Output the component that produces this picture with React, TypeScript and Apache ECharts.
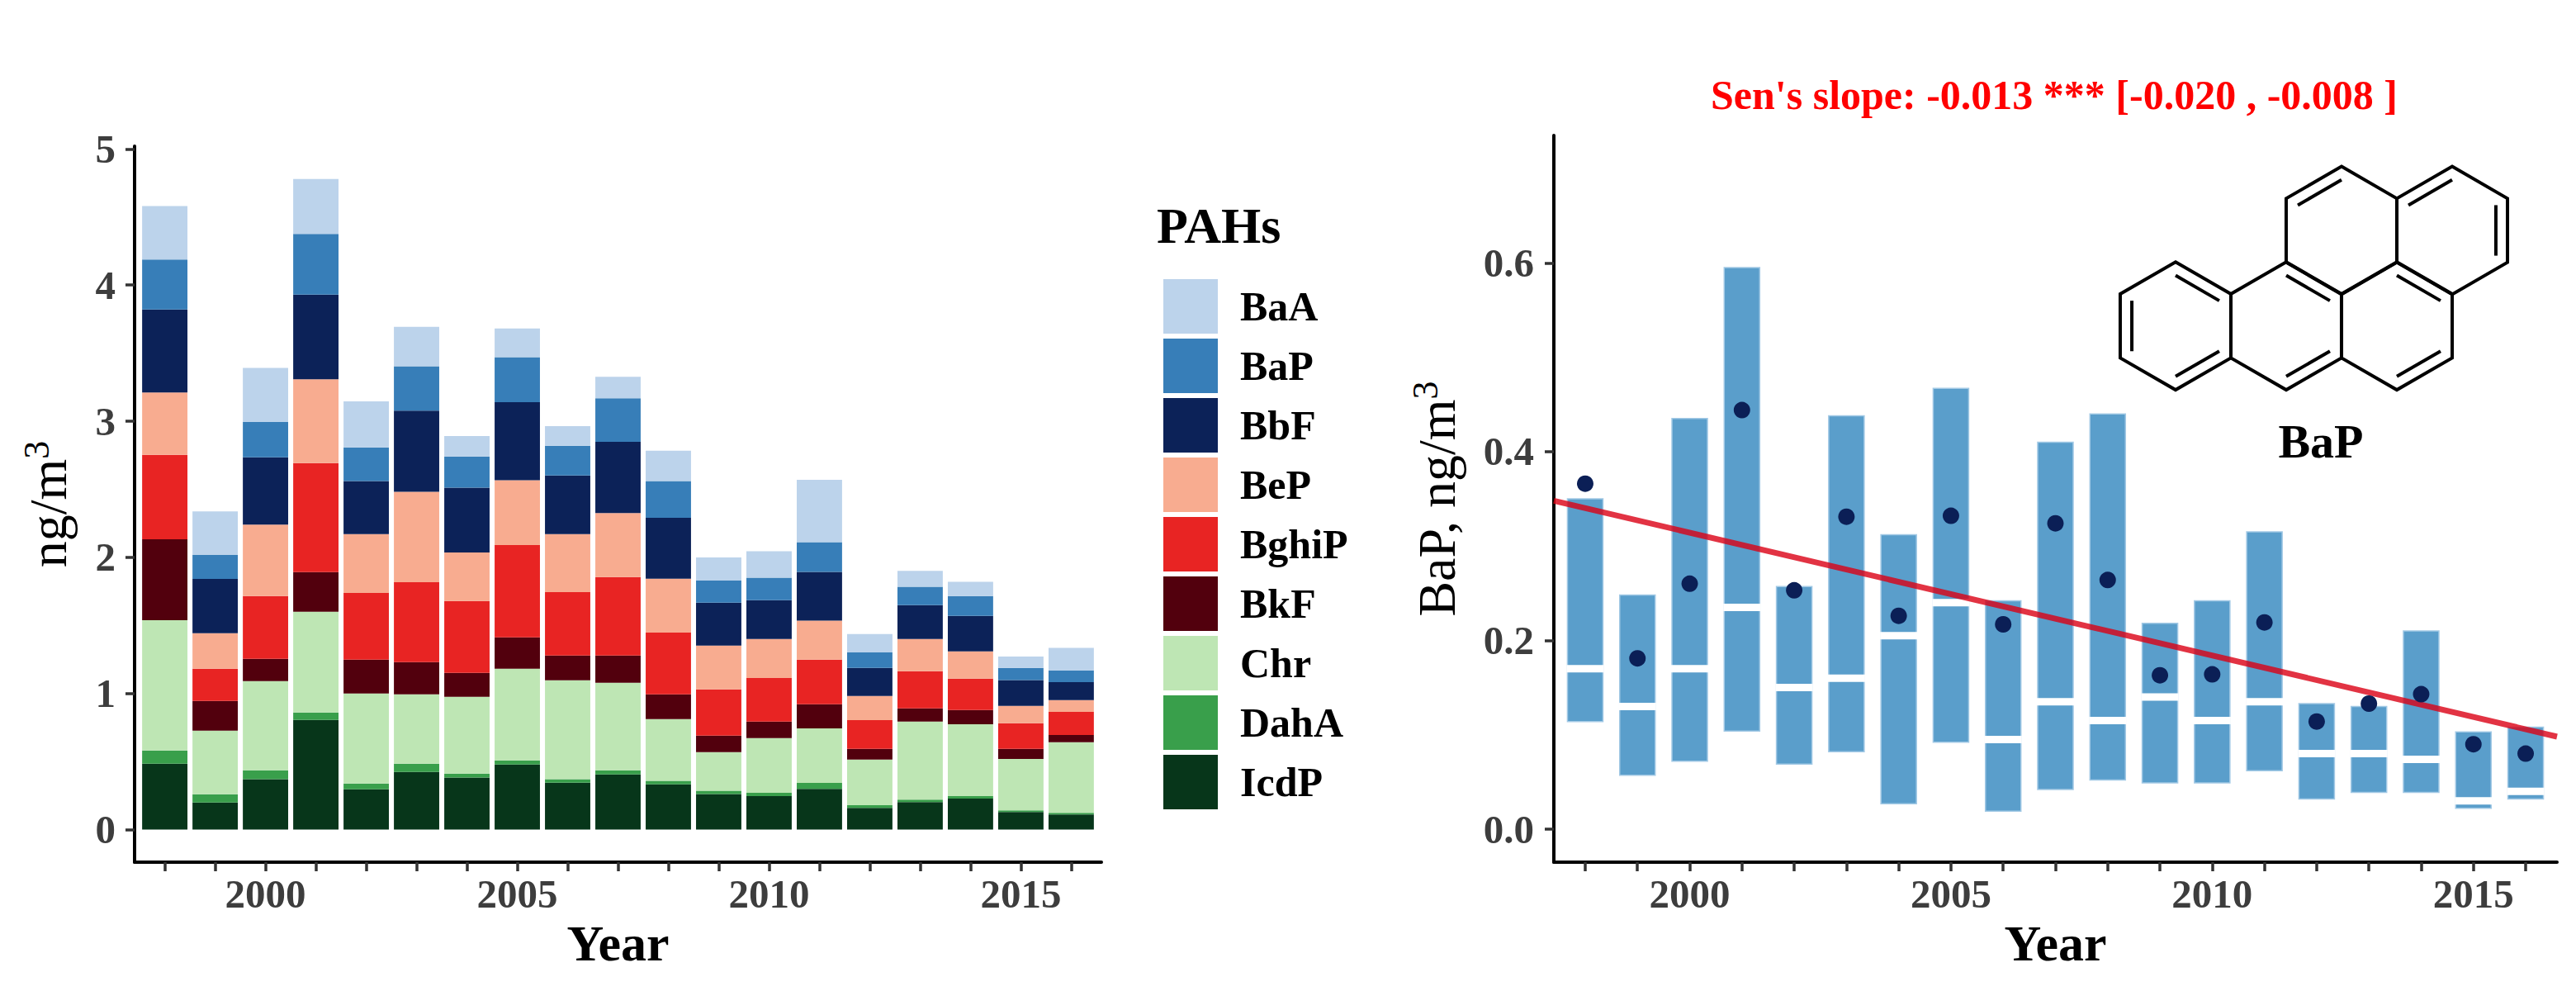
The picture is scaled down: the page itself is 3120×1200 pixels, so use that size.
import React, { useEffect, useRef } from 'react';
import * as echarts from 'echarts';

// ---------------- data ----------------
const years = [1998, 1999, 2000, 2001, 2002, 2003, 2004, 2005, 2006, 2007, 2008, 2009, 2010, 2011, 2012, 2013, 2014, 2015, 2016];

// PAH concentrations (ng/m3), stacked bar segments
const IcdP = [0.485, 0.2, 0.37, 0.806, 0.297, 0.424, 0.382, 0.479, 0.345, 0.406, 0.333, 0.261, 0.247, 0.3, 0.16, 0.202, 0.228, 0.13, 0.112];
const DahA = [0.097, 0.06, 0.066, 0.055, 0.042, 0.061, 0.03, 0.03, 0.025, 0.03, 0.025, 0.024, 0.023, 0.044, 0.019, 0.019, 0.019, 0.012, 0.011];
const Chr = [0.957, 0.467, 0.655, 0.739, 0.661, 0.509, 0.564, 0.673, 0.727, 0.643, 0.454, 0.285, 0.402, 0.4, 0.335, 0.572, 0.527, 0.377, 0.519];
const BkF = [0.594, 0.218, 0.164, 0.291, 0.248, 0.236, 0.176, 0.23, 0.182, 0.2, 0.182, 0.121, 0.121, 0.177, 0.079, 0.098, 0.105, 0.074, 0.053];
const BghiP = [0.62, 0.237, 0.46, 0.801, 0.491, 0.588, 0.527, 0.679, 0.466, 0.576, 0.454, 0.339, 0.321, 0.328, 0.212, 0.272, 0.23, 0.188, 0.17];
const BeP = [0.458, 0.26, 0.525, 0.616, 0.431, 0.663, 0.357, 0.475, 0.425, 0.471, 0.395, 0.322, 0.286, 0.286, 0.176, 0.237, 0.2, 0.128, 0.086];
const BbF = [0.609, 0.4, 0.495, 0.621, 0.39, 0.597, 0.476, 0.573, 0.432, 0.523, 0.447, 0.315, 0.286, 0.358, 0.207, 0.249, 0.261, 0.189, 0.133];
const BaP = [0.368, 0.176, 0.259, 0.446, 0.247, 0.326, 0.229, 0.331, 0.217, 0.32, 0.27, 0.163, 0.165, 0.219, 0.114, 0.135, 0.146, 0.09, 0.086];
const BaA = [0.392, 0.32, 0.398, 0.404, 0.338, 0.289, 0.15, 0.211, 0.145, 0.157, 0.223, 0.17, 0.193, 0.458, 0.135, 0.116, 0.105, 0.084, 0.165];

const legendOrder = ['BaA', 'BaP', 'BbF', 'BeP', 'BghiP', 'BkF', 'Chr', 'DahA', 'IcdP'];

// BaP distribution per year (ng/m3)
const bapQ1 = [0.114, 0.057, 0.072, 0.104, 0.069, 0.082, 0.027, 0.092, 0.019, 0.042, 0.052, 0.049, 0.049, 0.062, 0.032, 0.039, 0.039, 0.022, 0.032];
const bapMedian = [0.17, 0.13, 0.17, 0.235, 0.15, 0.16, 0.205, 0.24, 0.095, 0.135, 0.115, 0.14, 0.115, 0.135, 0.08, 0.08, 0.074, 0.03, 0.04];
const bapQ3 = [0.35, 0.248, 0.435, 0.595, 0.257, 0.438, 0.312, 0.467, 0.242, 0.41, 0.44, 0.218, 0.242, 0.315, 0.133, 0.13, 0.21, 0.103, 0.108];
const bapMean = [0.366, 0.181, 0.26, 0.444, 0.253, 0.331, 0.226, 0.332, 0.217, 0.324, 0.264, 0.163, 0.164, 0.219, 0.114, 0.133, 0.143, 0.09, 0.08];

// Sen's slope trend line end points
const trendYears = [1997.4, 2016.6];
const trendValues = [0.348, 0.098];

const leftYTicks = [0, 1, 2, 3, 4, 5];
const rightYTicks = [0, 0.2, 0.4, 0.6];
const xLabelYears = [2000, 2005, 2010, 2015];

// ---------------- styles ----------------
const FONT = '"Liberation Serif", "DejaVu Serif", serif';
const COLORS: Record<string, string> = {
  BaA: '#BCD3EB',
  BaP: '#377EB8',
  BbF: '#0C2258',
  BeP: '#F8AC90',
  BghiP: '#E82423',
  BkF: '#52000D',
  Chr: '#BEE6B4',
  DahA: '#399F4B',
  IcdP: '#07361A',
};
const seriesData: Record<string, number[]> = { IcdP, DahA, Chr, BkF, BghiP, BeP, BbF, BaP, BaA };
const stackOrder = ['IcdP', 'DahA', 'Chr', 'BkF', 'BghiP', 'BeP', 'BbF', 'BaP', 'BaA'];

function moleculeGraphics() {
  const s = 77.4;
  const hw = (s * Math.sqrt(3)) / 2;
  const rings: [number, number][] = [
    [2836, 279],
    [2970, 279],
    [2769, 394.7],
    [2903, 394.7],
    [2635, 394.7],
  ];
  const verts = (c: [number, number]) => [
    [c[0], c[1] - s],
    [c[0] + hw, c[1] - s / 2],
    [c[0] + hw, c[1] + s / 2],
    [c[0], c[1] + s],
    [c[0] - hw, c[1] + s / 2],
    [c[0] - hw, c[1] - s / 2],
  ];
  const doubles: [number, number][] = [
    [0, 5], [1, 5], [1, 1], [2, 0], [3, 0], [4, 0], [4, 4], [4, 2], [2, 2], [3, 2],
  ];
  const els: any[] = [];
  rings.forEach((c) => {
    els.push({
      type: 'polygon',
      shape: { points: verts(c) },
      style: { fill: 'none', stroke: '#000', lineWidth: 4 },
      silent: true,
    });
  });
  const k = 0.21;
  doubles.forEach(([ri, ei]) => {
    const c = rings[ri];
    const v = verts(c);
    const a = v[ei];
    const b = v[(ei + 1) % 6];
    els.push({
      type: 'line',
      shape: {
        x1: a[0] + (c[0] - a[0]) * k,
        y1: a[1] + (c[1] - a[1]) * k,
        x2: b[0] + (c[0] - b[0]) * k,
        y2: b[1] + (c[1] - b[1]) * k,
      },
      style: { stroke: '#000', lineWidth: 4 },
      silent: true,
    });
  });
  return els;
}

function buildOption() {
  const axisLine = { show: true, onZero: false, lineStyle: { color: '#000', width: 4 } };
  const tickStyle = { color: '#333', width: 3.5 };
  const tickLabel = { fontSize: 49, fontWeight: 'bold', color: '#3d3d3d', fontFamily: FONT };
  const yNameRich = {
    n: { fontSize: 64, fontFamily: FONT, color: '#000', lineHeight: 72 },
    s: { fontSize: 44, fontFamily: FONT, color: '#000', verticalAlign: 'top', lineHeight: 44 },
  };

  // cumulative bounds for the stacked bars
  const lower: Record<string, number[]> = {};
  const running = years.map(() => 0);
  stackOrder.forEach((name) => {
    lower[name] = running.slice();
    seriesData[name].forEach((v, i) => {
      running[i] += v;
    });
  });

  const barSeries = stackOrder.map((name) => ({
    name,
    type: 'custom',
    xAxisIndex: 0,
    yAxisIndex: 0,
    itemStyle: { color: COLORS[name] },
    encode: { x: 0, y: [1, 2] },
    data: years.map((y, i) => [y, lower[name][i], lower[name][i] + seriesData[name][i]]),
    renderItem: (params: any, api: any) => {
      const x = api.value(0);
      const pb = api.coord([x, api.value(1)]);
      const pt = api.coord([x, api.value(2)]);
      const w = api.size([0.9, 0])[0];
      return {
        type: 'rect',
        shape: { x: pb[0] - w / 2, y: pt[1], width: w, height: pb[1] - pt[1] },
        style: { fill: COLORS[name] },
      };
    },
  }));

  const xLabel = {
    ...tickLabel,
    customValues: xLabelYears,
    margin: 38,
    verticalAlign: 'middle',
    formatter: (v: number) => String(v),
  };

  return {
    animation: false,
    backgroundColor: '#fff',
    textStyle: { fontFamily: FONT },
    grid: [
      { left: 163, top: 177, width: 1171, height: 867 },
      { left: 1882, top: 164, width: 1215, height: 880 },
    ],
    legend: {
      data: legendOrder,
      orient: 'vertical',
      left: 1404,
      top: 333,
      itemWidth: 66,
      itemHeight: 66,
      itemGap: 6,
      icon: 'rect',
      selectedMode: false,
      textStyle: { fontSize: 50, fontWeight: 'bold', color: '#000', fontFamily: FONT, padding: [0, 0, 0, 22] },
    },
    xAxis: [
      {
        type: 'value', gridIndex: 0, min: 1997.4, max: 2016.6,
        splitLine: { show: false },
        axisLine,
        axisTick: { show: true, customValues: years, length: 11, lineStyle: tickStyle },
        axisLabel: xLabel,
        name: 'Year', nameLocation: 'middle', nameGap: 98,
        nameTextStyle: { fontSize: 62, fontWeight: 'bold', color: '#000', fontFamily: FONT, verticalAlign: 'middle' },
      },
      {
        type: 'value', gridIndex: 1, min: 1997.4, max: 2016.6,
        splitLine: { show: false },
        axisLine,
        axisTick: { show: true, customValues: years, length: 11, lineStyle: tickStyle },
        axisLabel: xLabel,
        name: 'Year', nameLocation: 'middle', nameGap: 98,
        nameTextStyle: { fontSize: 62, fontWeight: 'bold', color: '#000', fontFamily: FONT, verticalAlign: 'middle' },
      },
    ],
    yAxis: [
      {
        type: 'value', gridIndex: 0, min: -0.239, max: 5.02,
        splitLine: { show: false },
        axisLine,
        axisTick: { show: true, customValues: leftYTicks, length: 11, lineStyle: tickStyle },
        axisLabel: { ...tickLabel, customValues: leftYTicks, margin: 23, formatter: (v: number) => String(v) },
        name: '{n|ng/m}{s|3}', nameLocation: 'middle', nameGap: 105, nameRotate: 90,
        nameTextStyle: { verticalAlign: 'middle', align: 'center', rich: yNameRich },
      },
      {
        type: 'value', gridIndex: 1, min: -0.035, max: 0.735,
        splitLine: { show: false },
        axisLine,
        axisTick: { show: true, customValues: rightYTicks, length: 11, lineStyle: tickStyle },
        axisLabel: { ...tickLabel, customValues: rightYTicks, margin: 24, formatter: (v: number) => v.toFixed(1) },
        name: '{n|BaP, ng/m}{s|3}', nameLocation: 'middle', nameGap: 142, nameRotate: 90,
        nameTextStyle: { verticalAlign: 'middle', align: 'center', rich: yNameRich },
      },
    ],
    series: [
      ...barSeries,
      {
        name: 'BaP box',
        type: 'custom',
        xAxisIndex: 1,
        yAxisIndex: 1,
        encode: { x: 0, y: [1, 2, 3] },
        data: years.map((y, i) => [y, bapQ1[i], bapMedian[i], bapQ3[i]]),
        renderItem: (params: any, api: any) => {
          const x = api.value(0);
          const p1 = api.coord([x, api.value(1)]);
          const pm = api.coord([x, api.value(2)]);
          const p3 = api.coord([x, api.value(3)]);
          const w = api.size([0.68, 0])[0];
          return {
            type: 'group',
            children: [
              {
                type: 'rect',
                shape: { x: p3[0] - w / 2, y: p3[1], width: w, height: p1[1] - p3[1] },
                style: { fill: '#5A9ECB', stroke: '#A2C9E5', lineWidth: 1.5 },
              },
              {
                type: 'rect',
                shape: { x: p3[0] - w / 2 - 1, y: pm[1] - 4.5, width: w + 2, height: 9 },
                style: { fill: '#fff' },
              },
            ],
          };
        },
        z: 2,
      },
      {
        name: 'Sen slope',
        type: 'line',
        xAxisIndex: 1,
        yAxisIndex: 1,
        data: trendYears.map((y, i) => [y, trendValues[i]]),
        showSymbol: false,
        symbol: 'none',
        lineStyle: { color: 'rgba(219,0,20,0.8)', width: 7 },
        z: 3,
      },
      {
        name: 'BaP mean',
        type: 'scatter',
        xAxisIndex: 1,
        yAxisIndex: 1,
        data: years.map((y, i) => [y, bapMean[i]]),
        symbolSize: 20,
        itemStyle: { color: '#0B1F56', opacity: 1 },
        z: 4,
      },
    ],
    graphic: [
      {
        type: 'text', x: 1401, y: 273,
        style: { text: 'PAHs', fontSize: 62, fontWeight: 'bold', fontFamily: FONT, fill: '#000', align: 'left', verticalAlign: 'middle' },
      },
      {
        type: 'text', x: 2488, y: 115,
        style: { text: "Sen's slope: -0.013 *** [-0.020 , -0.008 ]", fontSize: 50, fontWeight: 'bold', fontFamily: FONT, fill: '#ff0000', align: 'center', verticalAlign: 'middle' },
      },
      {
        type: 'text', x: 2811, y: 534,
        style: { text: 'BaP', fontSize: 58, fontWeight: 'bold', fontFamily: FONT, fill: '#000', align: 'center', verticalAlign: 'middle' },
      },
      ...moleculeGraphics(),
    ],
  };
}

export default function App() {
  const ref = useRef<HTMLDivElement>(null);
  useEffect(() => {
    document.body.style.margin = '0';
    if (!ref.current) return;
    const chart = echarts.init(ref.current, undefined, { renderer: 'svg' });
    chart.setOption(buildOption() as any);
    return () => chart.dispose();
  }, []);
  return <div ref={ref} style={{ width: 3120, height: 1200, background: '#fff' }} />;
}
